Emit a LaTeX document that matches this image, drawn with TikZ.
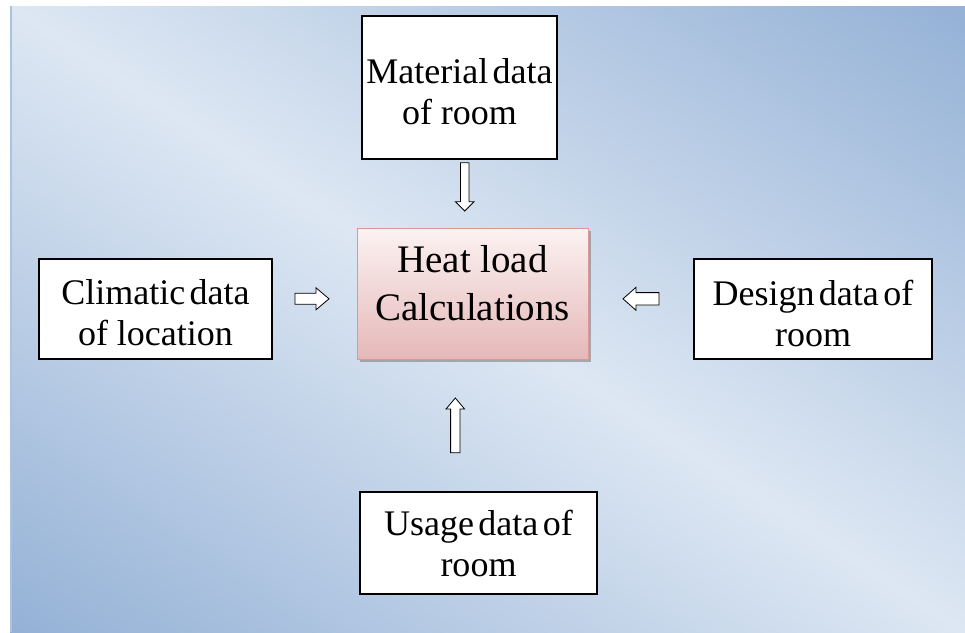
\documentclass[tikz,border=0pt]{standalone}
\usepackage{fontspec}
\setmainfont{Liberation Serif}
\usetikzlibrary{calc,shadows}
\definecolor{bgdark}{RGB}{148,177,214}
\definecolor{bglight}{RGB}{221,231,243}
\definecolor{bgedge}{RGB}{170,195,226}
\definecolor{heattop}{RGB}{252,242,242}
\definecolor{heatbot}{RGB}{229,184,184}
\definecolor{heatborder}{RGB}{220,150,150}
\newcommand{\tightline}[1]{{\spaceskip=0.12em plus 0.02em\relax #1}}
\begin{document}
\begin{tikzpicture}[x=1pt,y=-1pt,
  box/.style={draw=black, line width=1.1pt, fill=white, inner sep=0pt},
  boxtext/.style={align=center, font=\fontsize{36}{41}\selectfont, inner sep=0pt},
  heatbox/.style={draw=heatborder, line width=1pt, top color=heattop, bottom color=heatbot,
    drop shadow={shadow xshift=3pt, shadow yshift=-3pt, fill=black!50, opacity=0.6}},
  heattext/.style={align=center, font=\fontsize{39}{48}\selectfont, inner sep=0pt},
  blockarrow/.style n args={3}{draw=black, line width=0.8pt, fill=white, line join=miter,
    to path={
      ($(\tikztostart)!#1!90:(\tikztotarget)$)
      -- ($($(\tikztotarget)!#3!(\tikztostart)$)!#1!-90:(\tikztostart)$)
      -- ($($(\tikztotarget)!#3!(\tikztostart)$)!#2!-90:(\tikztostart)$)
      -- (\tikztotarget)
      -- ($($(\tikztotarget)!#3!(\tikztostart)$)!#2!90:(\tikztostart)$)
      -- ($($(\tikztotarget)!#3!(\tikztostart)$)!#1!90:(\tikztostart)$)
      -- ($(\tikztostart)!#1!-90:(\tikztotarget)$)
      -- cycle}},
]
\useasboundingbox (0,0) rectangle (965,632);
\fill[white] (0,0) rectangle (965,632);
% background gradient
\begin{scope}
  \clip (10,6) rectangle (965,632);
  \begin{scope}[transform canvas={rotate around={-33.2:(487.5,319)}}]
    \shade[top color=bgdark, bottom color=bgdark, middle color=bglight]
      (-262.5,-205) rectangle (1237.5,843);
  \end{scope}
\end{scope}
\draw[bgedge, line width=2pt] (11,6) -- (11,632);

% boxes
\node[box, minimum width=195pt, minimum height=143pt] (mat) at (459.5,87.5) {};
\node[boxtext] (matlabel) at ([yshift=-4pt]mat.center) {\tightline{Material data}\\of room};
\node[box, minimum width=233pt, minimum height=100pt] (clim) at (155.5,309) {};
\node[boxtext] (climlabel) at ([yshift=-4pt]clim.center) {\tightline{Climatic data}\\of location};
\node[box, minimum width=238pt, minimum height=100pt] (des) at (813,309) {};
\node[boxtext] (deslabel) at ([yshift=-4pt]des.center) {\tightline{Design data of}\\room};
\node[box, minimum width=237pt, minimum height=102pt] (use) at (478.5,543) {};
\node[boxtext] (uselabel) at (use.center) {\tightline{Usage data of}\\room};
\node[heatbox, minimum width=231pt, minimum height=131pt] (heat) at (472.5,293.5) {};
\node[heattext] (heatlabel) at ([yshift=10pt]heat.center) {Heat load\\Calculations};

% block arrows
\coordinate (d1) at (464.7,162.7); \coordinate (d2) at (464.7,211);
\coordinate (r1) at (295,298.8);   \coordinate (r2) at (329,298.8);
\coordinate (l1) at (659,298.8);   \coordinate (l2) at (623,298.8);
\coordinate (u1) at (455.3,452.7); \coordinate (u2) at (455.3,398);
\draw[blockarrow={4.2pt}{9.3pt}{9.3pt}] (d1) to (d2);
\draw[blockarrow={5.5pt}{11pt}{13pt}] (r1) to (r2);
\draw[blockarrow={6.2pt}{11.5pt}{13pt}] (l1) to (l2);
\draw[blockarrow={4.7pt}{9.3pt}{11pt}] (u1) to (u2);
\end{tikzpicture}
\end{document}
